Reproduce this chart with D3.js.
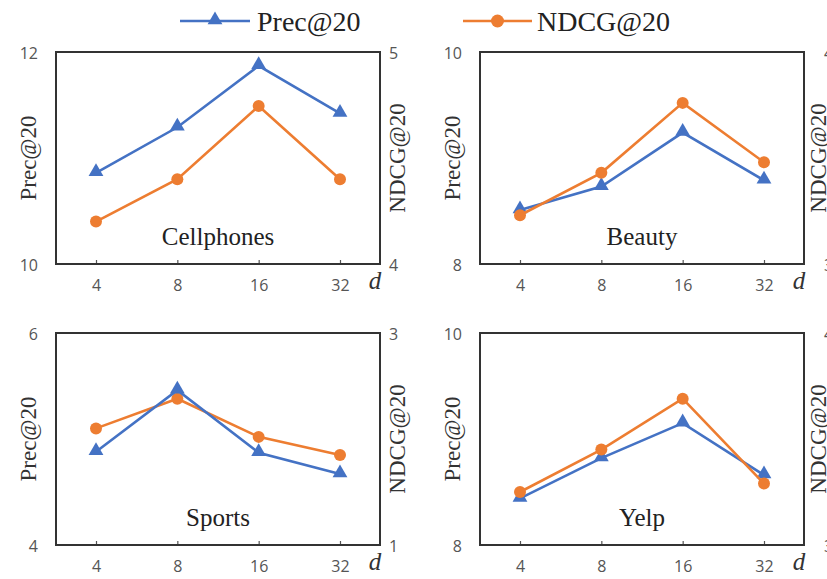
<!DOCTYPE html>
<html>
<head>
<meta charset="utf-8">
<script src="https://cdn.jsdelivr.net/npm/d3@7"></script>
<style>
html,body{margin:0;padding:0;background:#fff;}
svg{display:block;}
</style>
</head>
<body>
<svg id="chart" width="827" height="579"></svg>
<script>
// ---- data ----
const dims = ["4", "8", "16", "32"];
const datasets = ["Cellphones", "Beauty", "Sports", "Yelp"];
const precCellphones = [10.86, 11.29, 11.87, 11.42];
const ndcgCellphones = [4.20, 4.40, 4.745, 4.40];
const precBeauty = [8.51, 8.73, 9.24, 8.79];
const ndcgBeauty = [3.23, 3.43, 3.76, 3.48];
const precSports = [4.88, 5.46, 4.87, 4.67];
const ndcgSports = [2.10, 2.38, 2.02, 1.85];
const precYelp = [8.44, 8.82, 9.15, 8.66];
const ndcgYelp = [3.25, 3.45, 3.69, 3.29];
const precDomains = [[10, 12], [8, 10], [4, 6], [8, 10]];
const ndcgDomains = [[4, 5], [3, 4], [1, 3], [3, 4]];
const seriesNames = ["Prec@20", "NDCG@20"];

const precAll = [precCellphones, precBeauty, precSports, precYelp];
const ndcgAll = [ndcgCellphones, ndcgBeauty, ndcgSports, ndcgYelp];

// ---- layout ----
const BLUE = "#4472C4", ORANGE = "#ED7D31";
const panels = [
  {x0: 56, x1: 380, y0: 52, y1: 264, rOff: 9, rTitle: 17},
  {x0: 480, x1: 804, y0: 52, y1: 264, rOff: 20, rTitle: 14},
  {x0: 56, x1: 380, y0: 333, y1: 545, rOff: 9, rTitle: 17},
  {x0: 480, x1: 804, y0: 333, y1: 545, rOff: 20, rTitle: 14}
];
const svg = d3.select("#chart");
const serif = "'Liberation Serif', 'Times New Roman', serif";
const sans = "'Open Sans', 'Liberation Sans', sans-serif";
const tri = d3.symbol().type(d3.symbolTriangle).size(95);

panels.forEach((p, i) => {
  const g = svg.append("g");
  const x = d3.scalePoint().domain(dims).range([p.x0 + 40, p.x1 - 40]);
  const yL = d3.scaleLinear().domain(precDomains[i]).range([p.y1, p.y0]);
  const yR = d3.scaleLinear().domain(ndcgDomains[i]).range([p.y1, p.y0]);

  // x axis ticks
  const xa = g.append("g").attr("transform", `translate(0,${p.y1})`)
    .call(d3.axisBottom(x).tickSize(-4).tickPadding(16));
  xa.select(".domain").remove();
  xa.selectAll("line").attr("stroke", "#555").attr("stroke-width", 1.2);
  xa.selectAll("text").attr("fill", "#555").style("font-family", sans).style("font-size", "16px");

  // left axis
  const la = g.append("g").attr("transform", `translate(${p.x0 - 18},0)`)
    .call(d3.axisLeft(yL).tickValues(precDomains[i]).tickSize(0).tickPadding(0).tickFormat(d3.format("d")));
  la.select(".domain").remove();
  la.selectAll("text").attr("fill", "#555").style("font-family", sans).style("font-size", "16px").attr("dy", "0.4em");

  // right axis
  const ra = g.append("g").attr("transform", `translate(${p.x1 + p.rOff},0)`)
    .call(d3.axisRight(yR).tickValues(ndcgDomains[i]).tickSize(0).tickPadding(0).tickFormat(d3.format("d")));
  ra.select(".domain").remove();
  ra.selectAll("text").attr("fill", "#555").style("font-family", sans).style("font-size", "16px").attr("dy", "0.4em");

  // box
  g.append("rect").attr("x", p.x0).attr("y", p.y0)
    .attr("width", p.x1 - p.x0).attr("height", p.y1 - p.y0)
    .attr("fill", "none").attr("stroke", "#333").attr("stroke-width", 2);

  // axis titles
  const ym = (p.y0 + p.y1) / 2;
  g.append("text").attr("transform", `translate(${p.x0 - 28},${ym}) rotate(-90)`)
    .attr("text-anchor", "middle").attr("dy", "0.35em")
    .style("font-family", serif).style("font-size", "23px").attr("fill", "#333")
    .text("Prec@20");
  g.append("text").attr("transform", `translate(${p.x1 + p.rTitle},${ym}) rotate(-90)`)
    .attr("text-anchor", "middle").attr("dy", "0.35em")
    .style("font-family", serif).style("font-size", "23px").attr("fill", "#333")
    .text("NDCG@20");

  // d label
  g.append("text").attr("x", p.x1 - 5).attr("y", p.y1 + 25)
    .attr("text-anchor", "middle")
    .style("font-family", serif).style("font-style", "italic").style("font-size", "25px").attr("fill", "#333")
    .text("d");

  // dataset name
  g.append("text").attr("x", (p.x0 + p.x1) / 2).attr("y", p.y1 - 19)
    .attr("text-anchor", "middle")
    .style("font-family", serif).style("font-size", "25px").attr("fill", "#222")
    .text(datasets[i]);

  // lines
  const lineL = d3.line().x((d, j) => x(dims[j])).y(d => yL(d));
  const lineR = d3.line().x((d, j) => x(dims[j])).y(d => yR(d));
  const drawBlue = () => {
    g.append("path").datum(precAll[i]).attr("d", lineL)
      .attr("fill", "none").attr("stroke", BLUE).attr("stroke-width", 2.6);
    g.selectAll(null).data(precAll[i]).enter().append("path")
      .attr("d", tri).attr("fill", BLUE)
      .attr("transform", (d, j) => `translate(${x(dims[j])},${yL(d) - 1})`);
  };
  const drawOrange = () => {
    g.append("path").datum(ndcgAll[i]).attr("d", lineR)
      .attr("fill", "none").attr("stroke", ORANGE).attr("stroke-width", 2.6);
    g.selectAll(null).data(ndcgAll[i]).enter().append("circle")
      .attr("cx", (d, j) => x(dims[j])).attr("cy", d => yR(d)).attr("r", 6)
      .attr("fill", ORANGE);
  };
  if (i === 2) { drawOrange(); drawBlue(); } else { drawBlue(); drawOrange(); }
});

// legend
const lg = svg.append("g");
const legendItems = [
  {name: seriesNames[0], color: BLUE, x1: 180, x2: 250, tx: 257, marker: "tri"},
  {name: seriesNames[1], color: ORANGE, x1: 463, x2: 532, tx: 537, marker: "circ"}
];
legendItems.forEach(it => {
  lg.append("line").attr("x1", it.x1).attr("x2", it.x2).attr("y1", 21).attr("y2", 21)
    .attr("stroke", it.color).attr("stroke-width", 2.6);
  const cx = (it.x1 + it.x2) / 2;
  if (it.marker === "tri") {
    lg.append("path").attr("d", tri).attr("fill", it.color).attr("transform", `translate(${cx},20)`);
  } else {
    lg.append("circle").attr("cx", cx).attr("cy", 21).attr("r", 6.5).attr("fill", it.color);
  }
  lg.append("text").attr("x", it.tx).attr("y", 31)
    .style("font-family", serif).style("font-size", "28px").attr("fill", "#222")
    .text(it.name);
});
</script>
</body>
</html>
